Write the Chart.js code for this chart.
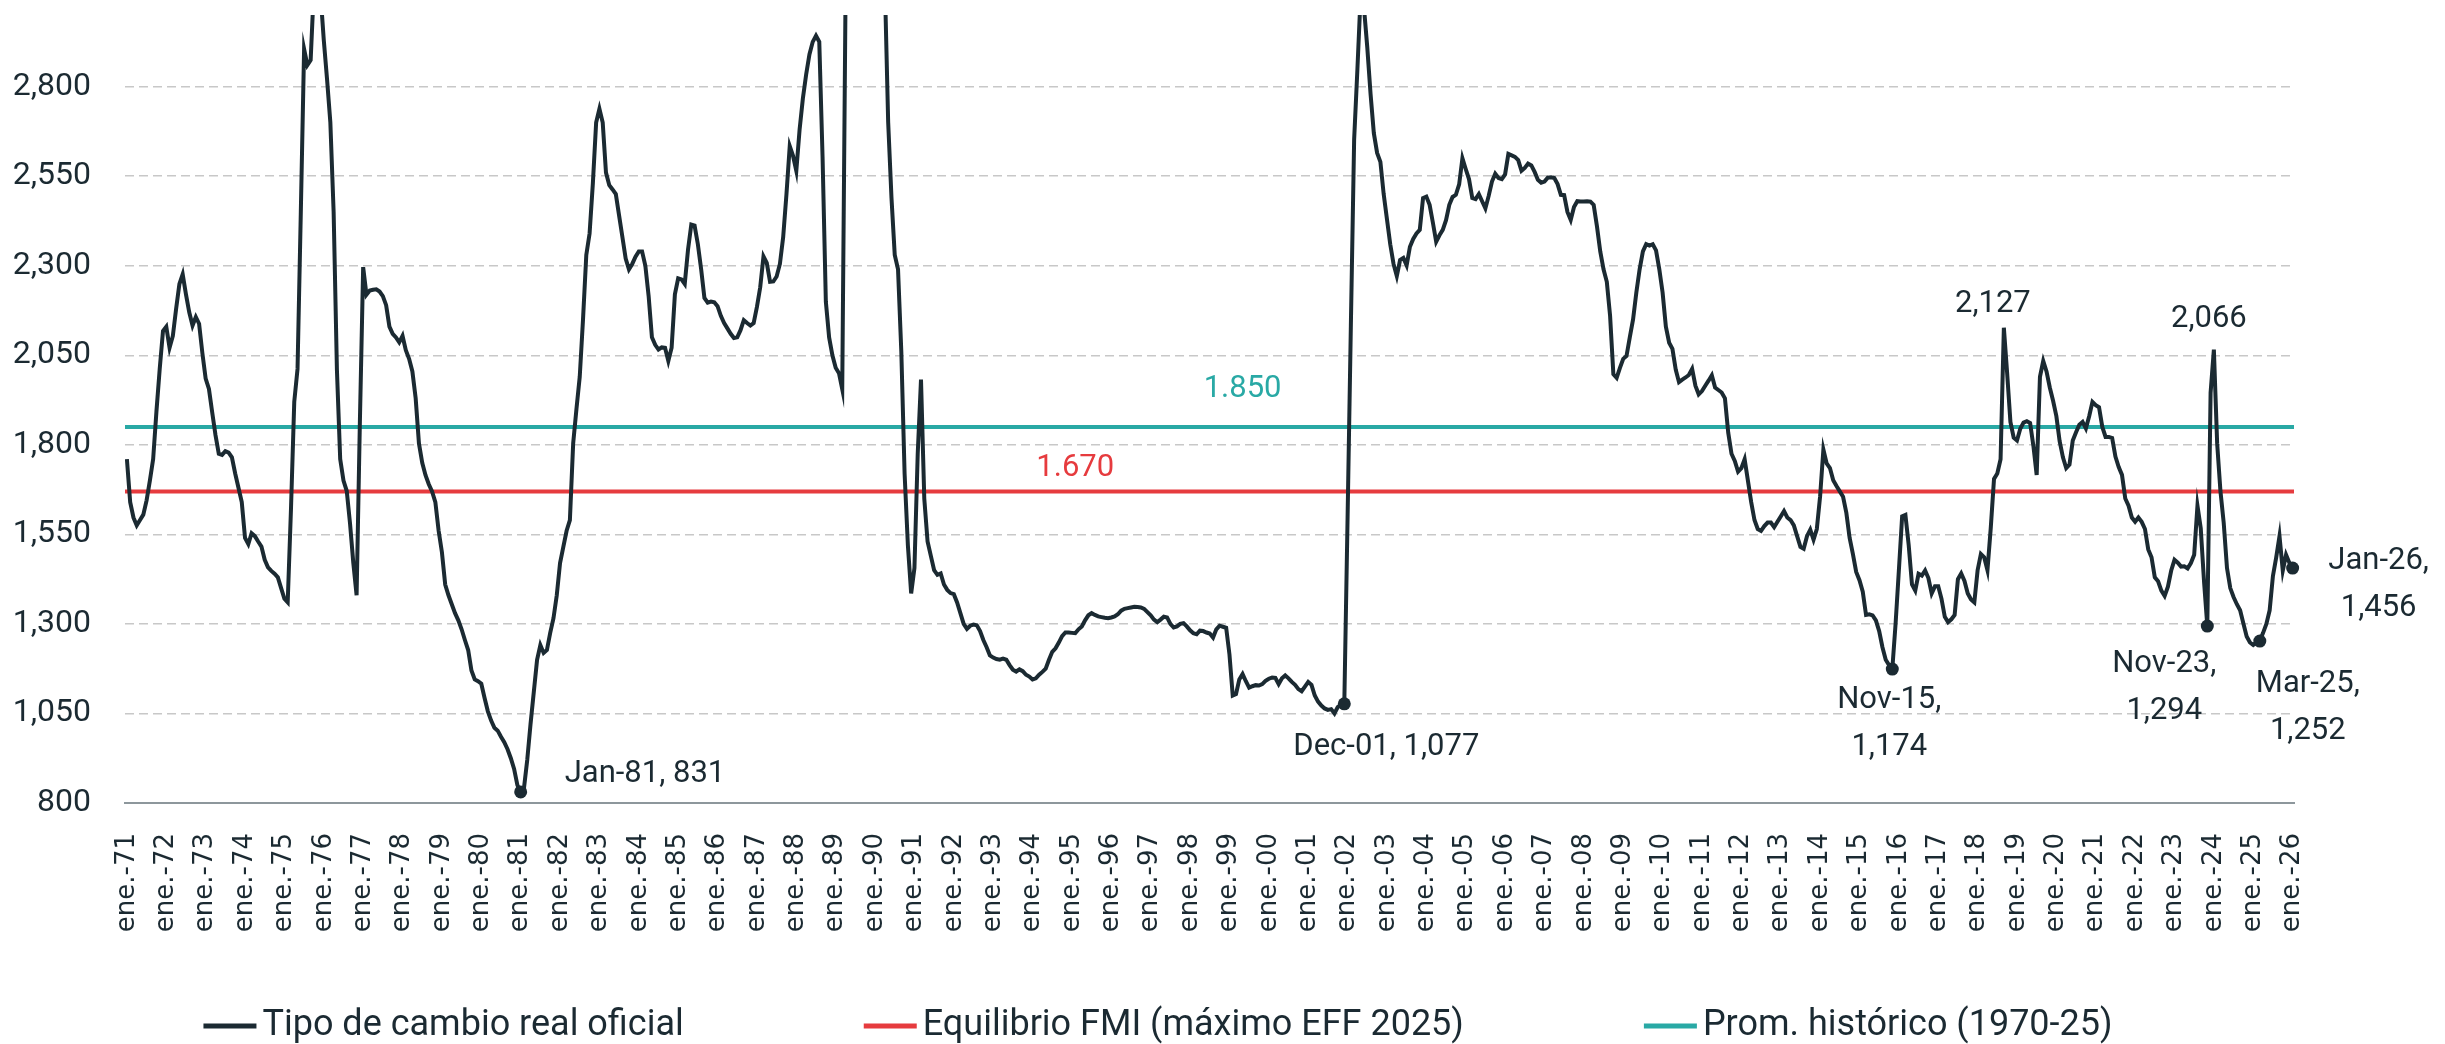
<!DOCTYPE html>
<html lang="es">
<head>
<meta charset="utf-8">
<title>Tipo de cambio real oficial</title>
<script src="https://cdn.jsdelivr.net/npm/chart.js@4.4.1/dist/chart.umd.min.js"></script>
<style>
  html, body { margin: 0; padding: 0; background: #ffffff; }
  #wrap { width: 2445px; height: 1044px; }
</style>
</head>
<body>
<div id="wrap"><canvas id="tcr-chart" width="2445" height="1044"></canvas></div>
<script>
// x axis labels, one per january
var tickLabels = ["ene.-71","ene.-72","ene.-73","ene.-74","ene.-75","ene.-76","ene.-77","ene.-78","ene.-79","ene.-80",
    "ene.-81","ene.-82","ene.-83","ene.-84","ene.-85","ene.-86","ene.-87","ene.-88","ene.-89","ene.-90",
    "ene.-91","ene.-92","ene.-93","ene.-94","ene.-95","ene.-96","ene.-97","ene.-98","ene.-99","ene.-00",
    "ene.-01","ene.-02","ene.-03","ene.-04","ene.-05","ene.-06","ene.-07","ene.-08","ene.-09","ene.-10",
    "ene.-11","ene.-12","ene.-13","ene.-14","ene.-15","ene.-16","ene.-17","ene.-18","ene.-19","ene.-20",
    "ene.-21","ene.-22","ene.-23","ene.-24","ene.-25","ene.-26"];

// y axis tick values
var yTicks = [800, 1050, 1300, 1550, 1800, 2050, 2300, 2550, 2800];

// tipo de cambio real oficial, monthly, ene-71 .. ene-26 (index = months since ene-71)
var tcrOficial = [
    1760, 1640, 1597, 1575, 1590, 1605, 1645, 1700, 1760, 1893, 2012, 2118, // 71
    2130, 2071, 2104, 2180, 2249, 2276, 2220, 2170, 2133, 2157, 2138, 2056, // 72
    1985, 1956, 1890, 1827, 1775, 1772, 1782, 1778, 1765, 1720, 1680, 1640, // 73
    1540, 1523, 1553, 1545, 1530, 1516, 1479, 1458, 1448, 1440, 1430, 1400, // 74
    1370, 1360, 1620, 1920, 2012, 2450, 2905, 2860, 2874, 3080, 3300, 3060, // 75
    2930, 2820, 2700, 2450, 2010, 1760, 1700, 1671, 1580, 1470, 1380, 1864, // 76
    2296, 2219, 2231, 2233, 2234, 2228, 2215, 2190, 2130, 2110, 2100, 2086, // 77
    2104, 2064, 2040, 2005, 1930, 1804, 1750, 1715, 1690, 1670, 1640, 1560, // 78
    1500, 1410, 1380, 1355, 1330, 1310, 1285, 1255, 1227, 1170, 1145, 1140, // 79
    1133, 1093, 1056, 1030, 1010, 1002, 985, 970, 950, 925, 895, 850,       // 80
    831, 841, 920, 1020, 1110, 1200, 1241, 1219, 1227, 1275, 1316, 1380,    // 81
    1470, 1515, 1560, 1590, 1804, 1900, 1990, 2150, 2330, 2390, 2530, 2700, // 82
    2738, 2700, 2560, 2525, 2513, 2500, 2440, 2380, 2320, 2290, 2305, 2325, // 83
    2340, 2340, 2300, 2215, 2100, 2079, 2066, 2072, 2071, 2034, 2071, 2220, // 84
    2265, 2262, 2249, 2345, 2415, 2412, 2360, 2290, 2210, 2197, 2200, 2198, // 85
    2187, 2160, 2140, 2125, 2110, 2098, 2100, 2120, 2148, 2140, 2133, 2140, // 86
    2185, 2240, 2326, 2308, 2255, 2256, 2270, 2305, 2380, 2500, 2634, 2607, // 87
    2565, 2680, 2767, 2834, 2890, 2925, 2942, 2925, 2604, 2200, 2100, 2050, // 88
    2015, 2000, 1955, 3050, 3600, 4000, 4300, 3900, 3700, 3600, 3500, 3400, // 89
    3450, 3300, 3200, 3080, 2700, 2490, 2330, 2290, 2060, 1720, 1520, 1385, // 90
    1456, 1775, 1982, 1650, 1530, 1490, 1450, 1437, 1441, 1410, 1395, 1386, // 91
    1383, 1360, 1330, 1300, 1286, 1295, 1298, 1296, 1280, 1255, 1235, 1212, // 92
    1206, 1202, 1200, 1203, 1200, 1185, 1172, 1167, 1173, 1168, 1158, 1153, // 93
    1145, 1148, 1158, 1166, 1175, 1200, 1222, 1232, 1248, 1266, 1276, 1276, // 94
    1275, 1274, 1285, 1293, 1310, 1324, 1330, 1325, 1321, 1319, 1317, 1316, // 95
    1318, 1321, 1327, 1337, 1342, 1344, 1346, 1348, 1347, 1346, 1342, 1333, // 96
    1324, 1312, 1305, 1312, 1320, 1318, 1300, 1290, 1293, 1300, 1302, 1293, // 97
    1282, 1274, 1271, 1281, 1280, 1276, 1273, 1262, 1285, 1295, 1292, 1289, // 98
    1215, 1100, 1104, 1145, 1160, 1140, 1122, 1126, 1129, 1128, 1132, 1141, // 99
    1147, 1150, 1149, 1132, 1148, 1156, 1148, 1138, 1130, 1118, 1112, 1125, // 00
    1138, 1130, 1100, 1083, 1072, 1064, 1060, 1062, 1050, 1068, 1075, 1077, // 01
    1597, 2133, 2653, 2850, 3060, 3020, 2910, 2780, 2670, 2615, 2590, 2500, // 02
    2430, 2360, 2305, 2271, 2316, 2322, 2301, 2353, 2375, 2390, 2400, 2489, // 03
    2493, 2470, 2420, 2367, 2385, 2400, 2427, 2470, 2492, 2498, 2527, 2600, // 04
    2570, 2542, 2489, 2486, 2500, 2480, 2460, 2495, 2535, 2557, 2545, 2542, // 05
    2555, 2612, 2608, 2604, 2595, 2565, 2573, 2585, 2580, 2562, 2540, 2532, // 06
    2535, 2546, 2547, 2545, 2528, 2498, 2497, 2450, 2428, 2464, 2480, 2479, // 07
    2479, 2480, 2479, 2470, 2410, 2340, 2290, 2255, 2160, 1997, 1987, 2015, // 08
    2040, 2048, 2100, 2150, 2225, 2290, 2340, 2360, 2356, 2360, 2343, 2290, // 09
    2225, 2130, 2085, 2068, 2010, 1975, 1982, 1988, 1995, 2012, 1965, 1941, // 10
    1950, 1965, 1979, 1994, 1960, 1953, 1946, 1930, 1834, 1775, 1755, 1725, // 11
    1735, 1760, 1700, 1640, 1590, 1565, 1560, 1573, 1583, 1583, 1570, 1585, // 12
    1600, 1615, 1597, 1590, 1575, 1545, 1515, 1510, 1545, 1563, 1535, 1565, // 13
    1656, 1787, 1748, 1735, 1701, 1685, 1670, 1655, 1610, 1540, 1495, 1445, // 14
    1422, 1390, 1325, 1327, 1324, 1310, 1280, 1235, 1200, 1185, 1174, 1300, // 15
    1449, 1600, 1604, 1520, 1410, 1393, 1440, 1435, 1449, 1428, 1385, 1405, // 16
    1405, 1370, 1320, 1305, 1313, 1325, 1425, 1441, 1420, 1385, 1368, 1360, // 17
    1450, 1495, 1486, 1450, 1567, 1705, 1720, 1760, 2127, 2000, 1864, 1820, // 18
    1812, 1845, 1862, 1866, 1861, 1797, 1716, 1990, 2034, 2005, 1960, 1923, // 19
    1880, 1810, 1765, 1735, 1745, 1812, 1835, 1856, 1864, 1846, 1880, 1920, // 20
    1911, 1905, 1850, 1822, 1822, 1819, 1767, 1738, 1716, 1650, 1630, 1597, // 21
    1585, 1597, 1585, 1565, 1508, 1486, 1430, 1419, 1393, 1378, 1404, 1449, // 22
    1479, 1471, 1460, 1461, 1455, 1470, 1493, 1630, 1567, 1419, 1294, 1945, // 23
    2066, 1804, 1671, 1582, 1456, 1400, 1375, 1355, 1338, 1301, 1265, 1248, // 24
    1241, 1248, 1252, 1275, 1300, 1338, 1434, 1486, 1545, 1449, 1493, 1471, // 25
    1456                                                                     // 26
];

var equilibrioFMI = 1670;
var promHistorico = 1850;

var seriesNames = ["Tipo de cambio real oficial", "Equilibrio FMI (máximo EFF 2025)", "Prom. histórico (1970-25)"];

// months that get a dot
var markedMonths = [120, 371, 538, 634, 650, 660];

// text notes: month index, value, text
var noteMonths = [120, 371, 538, 572, 634, 636, 650, 660];
var noteValues = [831, 1077, 1174, 2127, 1294, 2066, 1252, 1456];
var noteTexts = [["Jan-81, 831"], ["Dec-01, 1,077"], ["Nov-15,", "1,174"], ["2,127"],
    ["Nov-23,", "1,294"], ["2,066"], ["Mar-25,", "1,252"], ["Jan-26,", "1,456"]];

var lineLabels = ["1.850", "1.670"];

document.addEventListener("DOMContentLoaded", function() {

    var dark = "#1b2a32";
    var red = "#e63b3e";
    var teal = "#29a9a5";
    var xMin = -0.58;
    var xMax = 660.42;

    // pixel offsets for each note (same order as noteMonths)
    var noteLayout = [
        { dx: 44, dy: -18, align: "left" },
        { dx: 42, dy: 43, align: "center" },
        { dx: -3, dy: 31, align: "center" },
        { dx: -11, dy: -23, align: "center" },
        { dx: -43, dy: 38, align: "center" },
        { dx: -5, dy: -30, align: "center" },
        { dx: 48, dy: 43, align: "center" },
        { dx: 86, dy: -7, align: "center" }
    ];

    var notesPlugin = {
        id: "notes",
        afterDatasetsDraw: function(chart) {
            var ctx = chart.ctx;
            var xs = chart.scales.x;
            var ys = chart.scales.y;
            ctx.save();
            ctx.font = "31px Roboto";
            ctx.textBaseline = "middle";
            ctx.fillStyle = dark;
            noteMonths.forEach(function(m, i) {
                var px = xs.getPixelForValue(m);
                var py = ys.getPixelForValue(noteValues[i]);
                var lay = noteLayout[i];
                ctx.textAlign = lay.align;
                noteTexts[i].forEach(function(t, k) {
                    ctx.fillText(t, px + lay.dx, py + lay.dy + k * 47);
                });
            });

            // labels over the two reference lines
            ctx.textAlign = "center";
            ctx.fillStyle = teal;
            ctx.fillText(lineLabels[0], xs.getPixelForValue(340), ys.getPixelForValue(promHistorico) - 38);
            ctx.fillStyle = red;
            ctx.fillText(lineLabels[1], xs.getPixelForValue(289), ys.getPixelForValue(equilibrioFMI) - 23);
            ctx.restore();
        }
    };

    var legendPlugin = {
        id: "bottomLegend",
        afterDraw: function(chart) {
            var ctx = chart.ctx;
            var colors = [dark, red, teal];
            var swatch = 53, gap = 6, itemGap = 180;
            ctx.save();
            ctx.font = "36px Roboto";
            ctx.textBaseline = "middle";
            ctx.textAlign = "left";
            var widths = seriesNames.map(function(n) { return ctx.measureText(n).width; });
            var total = widths.reduce(function(s, w) { return s + swatch + gap + w; }, 0) + itemGap * 2;
            var x = 1158 - total / 2;
            var y = 1026;
            seriesNames.forEach(function(name, i) {
                ctx.fillStyle = colors[i];
                ctx.fillRect(x, y - 2.5, swatch, 5);
                ctx.fillStyle = dark;
                ctx.fillText(name, x + swatch + gap, y);
                x += swatch + gap + widths[i] + itemGap;
            });
            ctx.restore();
        }
    };

    var ctx = document.getElementById("tcr-chart").getContext("2d");
    new Chart(ctx, {
        type: "line",
        data: {
            datasets: [{
                label: seriesNames[0],
                data: tcrOficial.map(function(v, i) { return { x: i, y: v }; }),
                borderColor: dark,
                backgroundColor: dark,
                borderWidth: 4,
                pointRadius: function(c) { return markedMonths.indexOf(c.dataIndex) >= 0 ? 6.5 : 0; },
                pointBorderWidth: 0,
                pointHoverRadius: 0,
                tension: 0,
                clip: { left: 0, top: 0, right: 10, bottom: 10 }
            }, {
                label: seriesNames[1],
                data: [{ x: xMin, y: equilibrioFMI }, { x: xMax, y: equilibrioFMI }],
                borderColor: red,
                backgroundColor: red,
                borderWidth: 4,
                pointRadius: 0
            }, {
                label: seriesNames[2],
                data: [{ x: xMin, y: promHistorico }, { x: xMax, y: promHistorico }],
                borderColor: teal,
                backgroundColor: teal,
                borderWidth: 4,
                pointRadius: 0
            }]
        },
        options: {
            responsive: false,
            animation: false,
            devicePixelRatio: 1,
            locale: "en-US",
            layout: { padding: { left: 0, right: 151, top: 15, bottom: 0 } },
            plugins: {
                legend: { display: false },
                tooltip: { enabled: false }
            },
            scales: {
                x: {
                    type: "linear",
                    min: xMin,
                    max: xMax,
                    grid: { display: false, drawTicks: false },
                    border: { display: true, color: "#8d979c", width: 2 },
                    afterBuildTicks: function(scale) {
                        scale.ticks = tickLabels.map(function(l, i) { return { value: i * 12 }; });
                    },
                    ticks: {
                        autoSkip: false,
                        minRotation: 90,
                        maxRotation: 90,
                        padding: 30,
                        color: dark,
                        font: { family: "DejaVu Sans", size: 26 },
                        callback: function(value, index) { return tickLabels[index]; }
                    },
                    afterFit: function(scale) {
                        scale.height = 241;
                        scale.paddingLeft = 0;
                        scale.paddingRight = 0;
                    }
                },
                y: {
                    min: 800,
                    max: 3000,
                    afterBuildTicks: function(scale) {
                        scale.ticks = yTicks.map(function(v) { return { value: v }; });
                    },
                    ticks: {
                        padding: 34,
                        color: dark,
                        font: { family: "Roboto", size: 32 },
                        callback: function(value) { return value.toLocaleString("en-US"); }
                    },
                    grid: { color: "#c8c8c8", lineWidth: 1.5, drawTicks: false },
                    border: { display: false, dash: [9, 5] },
                    afterFit: function(scale) {
                        scale.width = 125;
                        scale.paddingTop = 0;
                        scale.paddingBottom = 0;
                    }
                }
            }
        },
        plugins: [notesPlugin, legendPlugin]
    });

});
</script>
</body>
</html>
